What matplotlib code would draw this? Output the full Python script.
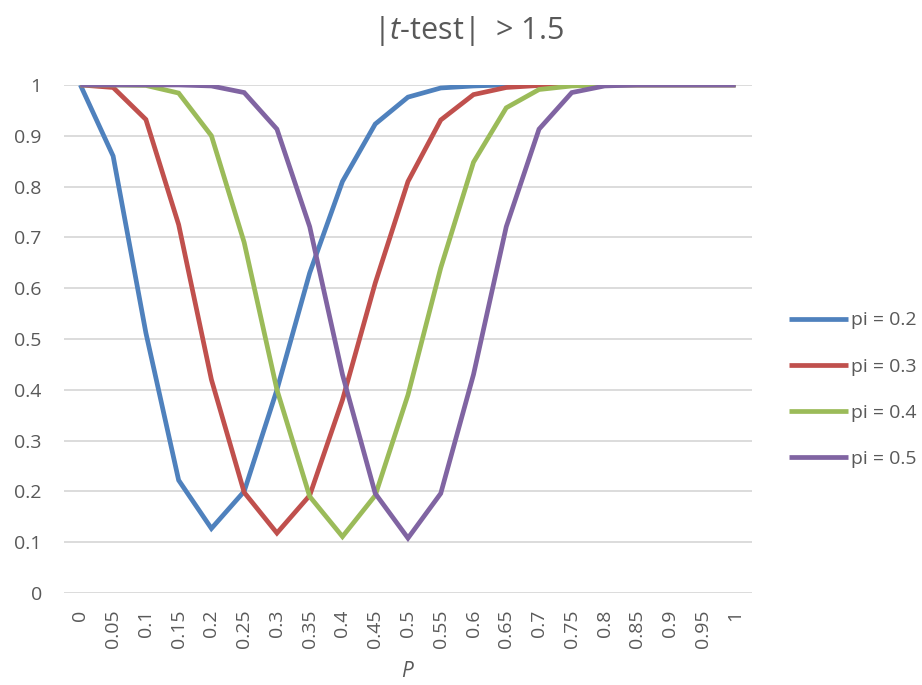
import matplotlib.pyplot as plt

plt.rcParams['font.family'] = ['Open Sans', 'DejaVu Sans']
plt.rcParams['mathtext.fontset'] = 'custom'
plt.rcParams['mathtext.it'] = 'Open Sans:italic'
plt.rcParams['mathtext.rm'] = 'Open Sans'

# =========================
# Data
# =========================
p_labels = ["0", "0.05", "0.1", "0.15", "0.2", "0.25", "0.3", "0.35", "0.4", "0.45",
            "0.5", "0.55", "0.6", "0.65", "0.7", "0.75", "0.8", "0.85", "0.9", "0.95", "1"]

pi_02 = [1.0, 0.860, 0.512, 0.222, 0.127, 0.200, 0.400, 0.630, 0.810, 0.923,
         0.976, 0.994, 0.998, 1.0, 1.0, 1.0, 1.0, 1.0, 1.0, 1.0, 1.0]
pi_03 = [1.0, 0.995, 0.932, 0.725, 0.420, 0.198, 0.118, 0.192, 0.380, 0.610,
         0.810, 0.931, 0.981, 0.995, 0.999, 1.0, 1.0, 1.0, 1.0, 1.0, 1.0]
pi_04 = [1.0, 1.0, 0.999, 0.984, 0.900, 0.690, 0.400, 0.190, 0.111, 0.192,
         0.390, 0.640, 0.848, 0.955, 0.991, 0.998, 1.0, 1.0, 1.0, 1.0, 1.0]
pi_05 = [1.0, 1.0, 1.0, 1.0, 0.998, 0.985, 0.913, 0.721, 0.430, 0.196,
         0.108, 0.196, 0.430, 0.721, 0.913, 0.985, 0.998, 1.0, 1.0, 1.0, 1.0]

series = [("pi = 0.2", pi_02, "#4F81BD"),
          ("pi = 0.3", pi_03, "#C0504D"),
          ("pi = 0.4", pi_04, "#9BBB59"),
          ("pi = 0.5", pi_05, "#8064A2")]

# =========================
# Plot
# =========================
fig = plt.figure(figsize=(9.22, 6.85), dpi=100)
ax = fig.add_axes([0.0694, 0.1343, 0.7462, 0.7417])

x = range(len(p_labels))
for name, vals, col in series:
    ax.plot(x, vals, color=col, linewidth=3.4, label=name,
            solid_joinstyle="miter", solid_capstyle="butt")

ax.set_xlim(-0.5, len(p_labels) - 0.5)
ax.set_ylim(0, 1)
ax.set_yticks([i / 10 for i in range(11)])
ax.set_yticklabels(["0", "0.1", "0.2", "0.3", "0.4", "0.5", "0.6", "0.7", "0.8", "0.9", "1"])
ax.set_xticks(list(x))
ax.set_xticklabels(p_labels, rotation=90)

ax.grid(axis="y", color="#D9D9D9", linewidth=1.3)
ax.set_axisbelow(True)
for s in ["top", "right", "left", "bottom"]:
    ax.spines[s].set_visible(False)
ax.tick_params(axis="both", length=0, labelsize=14, labelcolor="#595959")
ax.tick_params(axis="y", pad=16)
ax.tick_params(axis="x", pad=12)

ax.set_xlabel("$\\mathit{P}$", fontsize=15, color="#595959", labelpad=9)
fig.text(0.508, 0.955, "|$\\mathit{t}$-test|  > 1.5", fontsize=22, color="#595959",
         ha="center", va="center")

leg = ax.legend(loc="center left", bbox_to_anchor=(1.043, 0.4), frameon=False,
                fontsize=14, labelcolor="#595959", handlelength=3.0,
                handletextpad=0.15, labelspacing=1.45, borderaxespad=0.0)

fig.savefig("out.png", dpi=100)
